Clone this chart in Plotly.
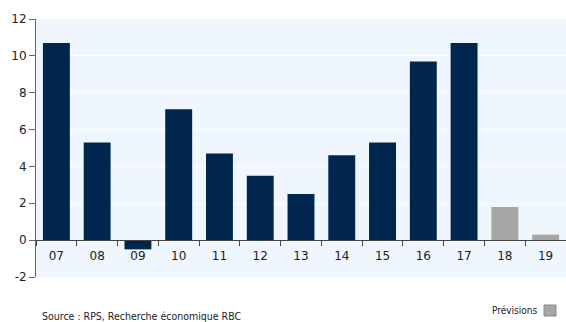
import plotly.graph_objects as go

years = ["07", "08", "09", "10", "11", "12", "13", "14", "15", "16", "17", "18", "19"]
values = [10.7, 5.3, -0.5, 7.1, 4.7, 3.5, 2.5, 4.6, 5.3, 9.7, 10.7, 1.8, 0.3]
is_forecast = [False] * 11 + [True] * 2
ytick_vals = [-2, 0, 2, 4, 6, 8, 10, 12]
ytick_text = ["-2", "0", "2", "4", "6", "8", "10", "12"]

NAVY = "#00264F"
GREY = "#A6A6A6"
colors = [GREY if f else NAVY for f in is_forecast]

fig = go.Figure(go.Bar(x=years, y=values, marker=dict(color=colors, line=dict(width=0)),
                       showlegend=False, hoverinfo="x+y"))

W, H = 566, 322
ml, mr, mt, mb = 36, 0, 19, 45
ymin, ymax = -2, 12
zero_pos = (0 - ymin) / (ymax - ymin)
pw = W - ml - mr
ph = H - mt - mb

fig.update_layout(
    width=W, height=H,
    margin=dict(l=ml, r=mr, t=mt, b=mb, pad=0, autoexpand=False),
    paper_bgcolor="white",
    plot_bgcolor="#EFF6FE",
    bargap=0.34,
    font=dict(family="DejaVu Sans", size=12, color="#222222"),
    xaxis=dict(
        type="category", automargin=False,
        anchor="free", position=zero_pos,
        showline=True, linecolor="#444444", linewidth=1,
        ticks="outside", tickson="boundaries", ticklen=5, tickcolor="#444444",
        showgrid=False,
        tickfont=dict(size=12, color="#222222"),
        ticklabelstandoff=4,
    ),
    yaxis=dict(
        range=[ymin, ymax], automargin=False,
        tickmode="array", tickvals=ytick_vals, ticktext=ytick_text,
        showline=True, linecolor="#666666", linewidth=1,
        ticks="outside", ticklen=6, tickcolor="#666666",
        showgrid=True, gridcolor="white", gridwidth=1,
        zeroline=False,
        tickfont=dict(size=12, color="#222222"),
    ),
)

fig.add_annotation(text="Variation en %, sur une base annuelle", xref="paper", yref="paper",
                   x=0.008, y=1 + 16 / ph, xanchor="left", yanchor="bottom",
                   showarrow=False, font=dict(size=10, color="#999999"))

fig.add_annotation(text="Source : RPS, Recherche économique RBC", xref="paper", yref="paper",
                   x=(40 - ml) / pw, y=-(316 - 277) / ph, xanchor="left", yanchor="middle",
                   showarrow=False, font=dict(size=10.5, color="#222222", family="DejaVu Sans Condensed"))

fig.add_annotation(text="Prévisions", xref="paper", yref="paper",
                   x=(539 - ml) / pw, y=-(310 - 277) / ph,
                   xanchor="right", yanchor="middle",
                   showarrow=False, font=dict(size=10, color="#222222", family="DejaVu Sans Condensed"))

fig.add_shape(type="rect", xref="paper", yref="paper",
              x0=(544 - ml) / pw, x1=(556 - ml) / pw,
              y0=-(316 - 277) / ph, y1=-(305 - 277) / ph,
              fillcolor=GREY, line=dict(color="#888888", width=1))

fig.write_html("out.html", config={"displayModeBar": False},
               post_script="document.body.style.margin='0';document.body.style.overflow='hidden';")
